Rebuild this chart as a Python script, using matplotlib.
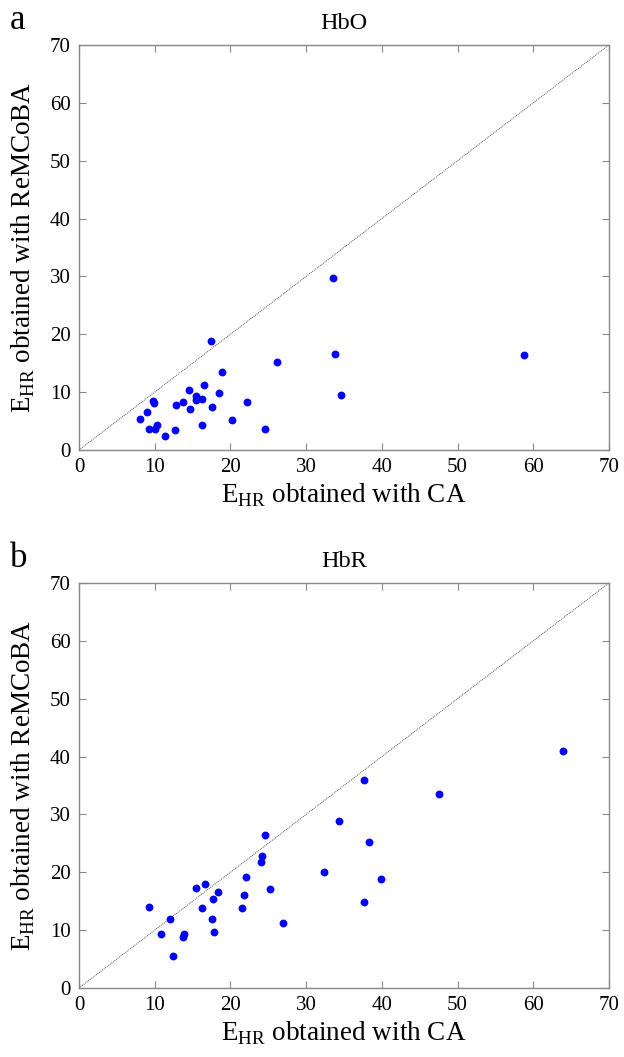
import numpy as np
import matplotlib
matplotlib.use("Agg")
import matplotlib.pyplot as plt

plt.rcParams['font.family'] = ['Liberation Serif', 'DejaVu Serif']
plt.rcParams['mathtext.fontset'] = 'custom'
plt.rcParams['mathtext.rm'] = 'Liberation Serif'

# HbO panel (a)
hbo_ca = [17.4, 26.1, 18.9, 16.5, 14.5, 18.5, 15.4, 15.5, 16.3, 13.8, 9.8, 9.9,
          22.2, 12.8, 17.5, 14.6, 9.0, 8.0, 20.2, 10.3, 16.3, 9.2, 10.1, 24.5,
          12.7, 11.3, 33.5, 33.8, 34.6, 58.8]
hbo_remcoba = [18.8, 15.2, 13.4, 11.3, 10.4, 9.9, 9.25, 8.7, 8.8, 8.3, 8.4, 8.2,
               8.3, 7.8, 7.5, 7.0, 6.6, 5.4, 5.2, 4.4, 4.3, 3.7, 3.7, 3.7,
               3.4, 2.4, 29.7, 16.6, 9.5, 16.4]

# HbR panel (b)
hbr_ca = [24.5, 24.2, 24.0, 32.4, 22.1, 16.7, 15.5, 25.2, 18.4, 21.8, 17.7, 9.3,
          16.2, 21.5, 12.0, 17.5, 26.9, 10.8, 13.9, 13.7, 17.8, 12.4,
          63.9, 37.7, 47.6, 34.3, 38.3, 39.9, 37.7]
hbr_remcoba = [26.4, 22.8, 21.7, 20.1, 19.1, 18.0, 17.2, 17.1, 16.6, 16.0, 15.4, 14.0,
               13.9, 13.9, 11.9, 12.0, 11.2, 9.3, 9.4, 8.8, 9.6, 5.6,
               40.9, 35.9, 33.6, 28.9, 25.2, 18.8, 14.8]

ticks = np.arange(0, 71, 10)


def draw_panel(ax, x, y, title, letter):
    ax.plot([0, 70], [0, 70], ls=(0, (1, 1)), color='#555555', lw=0.7)
    ax.scatter(x, y, s=32, color='#0000ff', zorder=3, linewidths=0)
    ax.set_xlim(0, 70)
    ax.set_ylim(0, 70)
    ax.set_xticks(ticks)
    ax.set_yticks(ticks)
    ax.tick_params(direction='in', length=5, width=0.8, color='#888888',
                   top=True, right=True, labelsize=15, pad=6)
    for sp in ax.spines.values():
        sp.set_color('#888888')
        sp.set_linewidth(1.0)
    ax.set_xlabel(r'E$_{\mathrm{HR}}$ obtained with CA', fontsize=19.5, labelpad=3)
    ax.set_ylabel(r'E$_{\mathrm{HR}}$ obtained with ReMCoBA', fontsize=19.5, labelpad=9)
    ax.set_title(title, fontsize=17.5, pad=11.5)
    ax.text(-0.130, 1.040, letter, transform=ax.transAxes, fontsize=25,
            ha='left', va='baseline')


fig = plt.figure(figsize=(6.24, 10.57), dpi=100)
ax1 = fig.add_axes([0.1266, 0.5743, 0.8494, 0.3832])
ax2 = fig.add_axes([0.1266, 0.0653, 0.8494, 0.3832])

draw_panel(ax1, hbo_ca, hbo_remcoba, 'HbO', 'a')
draw_panel(ax2, hbr_ca, hbr_remcoba, 'HbR', 'b')

fig.savefig('out.png', dpi=100)
